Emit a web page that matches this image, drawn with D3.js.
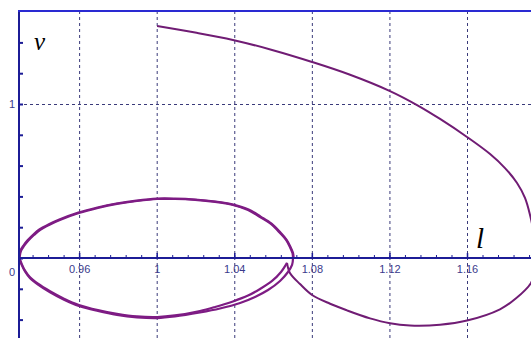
<!DOCTYPE html>
<html>
<head>
<meta charset="utf-8">
<script src="https://cdn.jsdelivr.net/npm/d3@7"></script>
<style>
  body { margin: 0; background: #fff; }
  svg { display: block; }
</style>
</head>
<body>
<div id="chart-area"></div>
<script>
/*
*    phase plot  l / v
*/

// tick values
var xMajor = [0.96, 1, 1.04, 1.08, 1.12, 1.16];
var yLabels = [1];
var yGrid = [1];

// trajectory: [l, v]
var arcDown = [
	[1.0002, 1.506], [1.0198, 1.464], [1.0393, 1.416], [1.0595, 1.351], [1.0801, 1.273],
	[1.0997, 1.190], [1.1203, 1.084], [1.1347, 0.990], [1.1461, 0.903], [1.160, 0.786],
	[1.1719, 0.675], [1.1796, 0.584], [1.1858, 0.487], [1.1899, 0.390], [1.1925, 0.279],
	[1.1946, 0.149], [1.1956, 0.019], [1.1951, -0.078], [1.1930, -0.162], [1.1853, -0.262],
	[1.177, -0.333], [1.160, -0.406], [1.1461, -0.433], [1.1306, -0.438],
	[1.1203, -0.424], [1.1100, -0.392], [1.0981, -0.340], [1.0894, -0.297], [1.0801, -0.240],
	[1.0739, -0.169], [1.0687, -0.097], [1.0672, -0.032]
];
var lower1 = [
	[1.0672, -0.032], [1.0641, -0.091], [1.0595, -0.149], [1.0533, -0.201], [1.0471, -0.244],
	[1.0393, -0.282], [1.0301, -0.318], [1.0223, -0.344], [1.0094, -0.373], [1.0002, -0.383],
	[0.9898, -0.379], [0.9795, -0.362], [0.9697, -0.338], [0.9599, -0.305], [0.9522, -0.264],
	[0.9450, -0.216], [0.9388, -0.167], [0.9347, -0.125], [0.9321, -0.082], [0.9305, -0.041],
	[0.9293, 0]
];
var upper1 = [
	[0.9293, 0], [0.9300, 0.045], [0.9316, 0.078], [0.9336, 0.110], [0.9367, 0.149],
	[0.9398, 0.182], [0.9450, 0.218], [0.9501, 0.247], [0.9599, 0.292], [0.9697, 0.325],
	[0.9795, 0.351], [0.9898, 0.370], [1.0002, 0.383], [1.0094, 0.383], [1.0198, 0.377],
	[1.0301, 0.364], [1.0393, 0.344], [1.0471, 0.312], [1.0533, 0.266], [1.0589, 0.221],
	[1.0636, 0.162], [1.0667, 0.117], [1.0687, 0.071], [1.0700, 0.032], [1.0703, 0]
];
var lower2 = [
	[1.0703, 0], [1.0698, -0.045], [1.0677, -0.091], [1.0636, -0.149], [1.0574, -0.208],
	[1.0507, -0.253], [1.0430, -0.292], [1.0326, -0.328], [1.0223, -0.354], [1.0094, -0.380],
	[1.0002, -0.390], [0.9898, -0.385], [0.9795, -0.369], [0.9697, -0.344], [0.9599, -0.312],
	[0.9522, -0.271], [0.9450, -0.223], [0.9388, -0.173], [0.9347, -0.131], [0.9321, -0.087],
	[0.9303, -0.043], [0.9290, 0]
];
var upper2 = [
	[0.9290, 0], [0.9297, 0.047], [0.9313, 0.081], [0.9333, 0.113], [0.9364, 0.152],
	[0.9395, 0.185], [0.9447, 0.221], [0.9498, 0.250], [0.9596, 0.295], [0.9694, 0.328],
	[0.9792, 0.354], [0.9895, 0.373], [1.0000, 0.386], [1.0094, 0.386], [1.0198, 0.380],
	[1.0303, 0.367], [1.0395, 0.347], [1.0474, 0.315], [1.0536, 0.269], [1.0592, 0.223],
	[1.0639, 0.164], [1.0670, 0.118], [1.0690, 0.072], [1.0703, 0.032], [1.0706, 0]
];
var paths = [arcDown, lower1, upper1, lower2, upper2];

var width = 531, height = 338;
var marginLeft = 19, marginTop = 11;

var svg = d3.select("#chart-area").append("svg")
	.attr("width", width)
	.attr("height", height);

var x = d3.scaleLinear().domain([0.929, 1.16]).range([marginLeft, 467]);
var y = d3.scaleLinear().domain([0, 1]).range([258, 104]);

// dashed grid
svg.append("g")
	.attr("transform", "translate(0," + height + ")")
	.call(d3.axisBottom(x).tickValues(xMajor).tickSize(-(height - marginTop)).tickFormat(""))
	.call(g => g.select(".domain").remove())
	.selectAll("line")
	.attr("stroke", "#3a3a7a")
	.attr("stroke-dasharray", "3,3");

svg.append("g")
	.attr("transform", "translate(" + width + ",0)")
	.call(d3.axisLeft(y).tickValues(yGrid).tickSize(width - marginLeft).tickFormat(""))
	.call(g => g.select(".domain").remove())
	.selectAll("line")
	.attr("stroke", "#3a3a7a")
	.attr("stroke-dasharray", "3,3");

// curve
svg.append("clipPath").attr("id", "clip")
	.append("rect")
	.attr("x", marginLeft).attr("y", marginTop)
	.attr("width", width - marginLeft).attr("height", height - marginTop);

var line = d3.line()
	.x(d => x(d[0]))
	.y(d => y(d[1]))
	.curve(d3.curveCatmullRom);

svg.append("g")
	.attr("clip-path", "url(#clip)")
	.selectAll("path")
	.data(paths)
	.enter().append("path")
	.attr("d", line)
	.attr("fill", "none")
	.attr("stroke", (d, i) => i == 0 ? "#701c74" : "#7e1c84")
	.attr("stroke-width", (d, i) => i == 0 ? 2 : 2.2);

// x axis through v = 0
var minorX = d3.range(0.936, 1.2, 0.008);
svg.append("g")
	.attr("transform", "translate(0," + y(0) + ")")
	.call(d3.axisTop(x).tickValues(minorX).tickSize(3).tickFormat(""))
	.call(g => g.select(".domain").attr("d", "M" + marginLeft + ",0H" + width).attr("stroke", "#1c1c96").attr("stroke-width", 2))
	.selectAll("line").attr("stroke", "#1c1c96");

svg.append("g")
	.attr("transform", "translate(0," + y(0) + ")")
	.call(d3.axisBottom(x).tickValues(xMajor).tickSize(0).tickPadding(7).tickFormat(d => d))
	.call(g => g.select(".domain").remove())
	.selectAll("text")
	.attr("fill", "#3a3a8c")
	.attr("font-family", "Liberation Sans, Arial, sans-serif")
	.attr("font-size", 11);

svg.append("g")
	.attr("transform", "translate(0," + y(0) + ")")
	.call(d3.axisTop(x).tickValues(xMajor).tickSize(5).tickFormat(""))
	.call(g => g.select(".domain").remove())
	.selectAll("line").attr("stroke", "#1c1c96").attr("stroke-width", 1.5);

// y axis on the left
var minorY = d3.range(-0.4, 1.5, 0.2);
svg.append("g")
	.attr("transform", "translate(" + marginLeft + ",0)")
	.call(d3.axisRight(y).tickValues(minorY).tickSize(4).tickFormat(""))
	.call(g => g.select(".domain").attr("d", "M0," + marginTop + "V" + height).attr("stroke", "#1c1c96").attr("stroke-width", 2))
	.selectAll("line").attr("stroke", "#1c1c96").attr("stroke-width", 2);

svg.append("g")
	.attr("transform", "translate(" + marginLeft + ",0)")
	.call(d3.axisLeft(y).tickValues(yLabels).tickSize(0).tickPadding(4).tickFormat(d => d))
	.call(g => g.select(".domain").remove())
	.selectAll("text")
	.attr("fill", "#3a3a8c")
	.attr("font-family", "Liberation Sans, Arial, sans-serif")
	.attr("font-size", 11);

svg.append("text")
	.attr("x", 15).attr("y", y(0) + 18)
	.attr("text-anchor", "end")
	.attr("fill", "#3a3a8c")
	.attr("font-family", "Liberation Sans, Arial, sans-serif")
	.attr("font-size", 11)
	.text("0");

// top border
svg.append("line")
	.attr("x1", marginLeft - 1).attr("x2", width)
	.attr("y1", marginTop).attr("y2", marginTop)
	.attr("stroke", "#2a2ad2")
	.attr("stroke-width", 2);

// axis names
svg.append("text")
	.attr("x", 34).attr("y", 50)
	.attr("font-family", "Liberation Serif, Times New Roman, serif")
	.attr("font-style", "italic")
	.attr("font-size", 25)
	.text("v");

svg.append("text")
	.attr("x", 476).attr("y", 248)
	.attr("font-family", "Liberation Serif, Times New Roman, serif")
	.attr("font-style", "italic")
	.attr("font-size", 29)
	.text("l");
</script>
</body>
</html>
